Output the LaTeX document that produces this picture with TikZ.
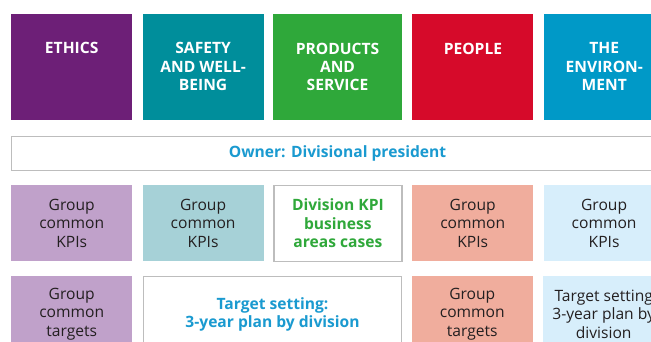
\documentclass[tikz,border=0pt]{standalone}
\usepackage{fontspec}
\setmainfont{Open Sans}
\usepackage{tikz}
\usetikzlibrary{positioning}
\definecolor{EthicsPurple}{HTML}{6D1F77}
\definecolor{SafetyTeal}{HTML}{008E9B}
\definecolor{ProductGreen}{HTML}{2FA83A}
\definecolor{PeopleRed}{HTML}{D60A2A}
\definecolor{EnvBlue}{HTML}{0099C7}
\definecolor{EthicsLight}{HTML}{C0A1CA}
\definecolor{SafetyLight}{HTML}{A6D1D7}
\definecolor{PeopleLight}{HTML}{F0AD9D}
\definecolor{EnvLight}{HTML}{D7EEFB}
\definecolor{OwnerBlue}{HTML}{1A9AD0}
\definecolor{TextDark}{HTML}{231F20}
\definecolor{FrameGray}{HTML}{BDBDBD}

\tikzset{
  pillar/.style={minimum width=121pt,minimum height=106pt,inner sep=0pt,anchor=north west},
  pillartext/.style={font=\bfseries\fontsize{15.6}{18.3}\selectfont,text=white,
    align=center,anchor=north,inner sep=0pt},
  cell/.style={minimum width=121pt,minimum height=76pt,inner sep=0pt,align=center,
    font=\fontsize{15.6}{18.3}\selectfont,text=TextDark},
  framed/.style={draw=FrameGray,line width=1.2pt,fill=white},
  strong/.style={font=\bfseries\fontsize{15.6}{18.3}\selectfont}
}

\begin{document}
\begin{tikzpicture}[x=1pt,y=-1pt]
\useasboundingbox (0,0) rectangle (651,342);
\clip (0,0) rectangle (651,342);

% pillars
\node[pillar,fill=EthicsPurple] (ethics) at (11,14) {};
\node[pillar,fill=SafetyTeal,right=10pt of ethics] (safety) {};
\node[pillar,fill=ProductGreen,minimum width=129pt,right=9pt of safety] (products) {};
\node[pillar,fill=PeopleRed,right=10pt of products] (people) {};
\node[pillar,fill=EnvBlue,right=10pt of people] (env) {};

\node[pillartext] at ([yshift=-28.5pt]ethics.north) {ETHICS};
\node[pillartext] at ([yshift=-28.5pt]safety.north) {SAFETY\\AND WELL-\\BEING};
\node[pillartext] at ([yshift=-28.5pt]products.north) {PRODUCTS\\AND\\SERVICE};
\node[pillartext] at ([yshift=-28.5pt]people.north) {PEOPLE};
\node[pillartext] at ([yshift=-28.5pt]env.north) {THE\\ENVIRON-\\MENT};

% owner bar
\node[framed,line width=1pt,minimum width=652pt,minimum height=34pt,inner sep=0pt,
  anchor=north west,strong,text=OwnerBlue] (owner) at (11,136) {Owner: Divisional president};

% KPI row
\node[cell,fill=EthicsLight,anchor=north west] (kpiethics) at (11,185) {Group\\common\\KPIs};
\node[cell,fill=SafetyLight,right=10pt of kpiethics] (kpisafety) {Group\\common\\KPIs};
\node[cell,framed,minimum width=128pt,strong,text=ProductGreen,right=9.5pt of kpisafety]
  (kpiproducts) {Division KPI\\business\\areas cases};
\node[cell,fill=PeopleLight,right=9.5pt of kpiproducts] (kpipeople) {Group\\common\\KPIs};
\node[cell,fill=EnvLight,right=10pt of kpipeople] (kpienv) {Group\\common\\KPIs};

% target row
\node[cell,fill=EthicsLight,anchor=north west] (tgtethics) at (11,276) {Group\\common\\targets};
\node[cell,framed,minimum width=258pt,strong,text=OwnerBlue,right=10.5pt of tgtethics]
  (tgtdivision) {Target setting:\\3-year plan by division};
\node[cell,fill=PeopleLight,right=9.5pt of tgtdivision] (tgtpeople) {Group\\common\\targets};
\node[cell,fill=EnvLight,right=10pt of tgtpeople] (tgtenv) {Target setting\\3-year plan by\\division};
\end{tikzpicture}
\end{document}
